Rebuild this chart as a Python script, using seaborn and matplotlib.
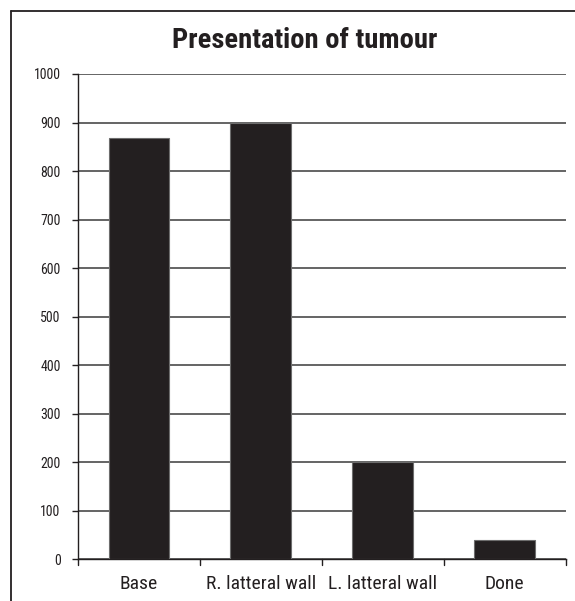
import matplotlib
matplotlib.use("Agg")
import matplotlib.pyplot as plt
import seaborn as sns
import pandas as pd
from matplotlib.lines import Line2D

categories = ["Base", "R. latteral wall", "L. latteral wall", "Done"]
counts = [868, 898, 200, 40]
y_ticks = [0, 100, 200, 300, 400, 500, 600, 700, 800, 900, 1000]

sns.set_theme(style="white")
plt.rcParams["font.family"] = ["Roboto Condensed", "DejaVu Sans"]

ink = "#231f20"
df = pd.DataFrame({"site": categories, "count": counts})

fig = plt.figure(figsize=(5.75, 6.01), dpi=100)
ax = fig.add_axes([0.1357, 0.0694, 0.848, 0.8075])

sns.barplot(data=df, x="site", y="count", color=ink, width=0.5,
            edgecolor="#6d6d6d", linewidth=0.8, saturation=1, ax=ax, zorder=3)

ax.set_ylim(0, 1000)
ax.set_xlim(-0.5, len(categories) - 0.5)
ax.set_yticks(y_ticks)
ax.set_yticklabels([str(v) for v in y_ticks], fontsize=10, color=ink)
ax.set_xticks(range(len(categories)))
ax.set_xticklabels(categories, fontsize=14, color=ink)
ax.tick_params(axis="x", length=0, pad=11)
ax.tick_params(axis="y", length=4.5, width=1, color=ink, direction="out", pad=8, left=True)

# horizontal gridlines
ax.yaxis.grid(True, color="#4a4a4a", linewidth=1.2, zorder=0)
ax.set_axisbelow(True)

# category boundary ticks below the x-axis
for b in range(len(categories) + 1):
    ax.plot([b - 0.5, b - 0.5], [0, -12], color=ink, lw=1, clip_on=False)

for s in ["top", "right"]:
    ax.spines[s].set_visible(False)
for s in ["left", "bottom"]:
    ax.spines[s].set_color(ink)
    ax.spines[s].set_linewidth(1)
ax.set_xlabel("")
ax.set_ylabel("")

fig.text(0.530, 0.933, "Presentation of tumour", ha="center", va="center",
         fontsize=20.5, fontweight="bold", color=ink)

# outer frame (left and top edges)
fig.add_artist(Line2D([0.0183, 0.0183], [0.0, 0.982], color=ink, lw=1.3))
fig.add_artist(Line2D([0.0183, 1.0], [0.982, 0.982], color=ink, lw=1.3))

fig.savefig("out.png", dpi=100)
